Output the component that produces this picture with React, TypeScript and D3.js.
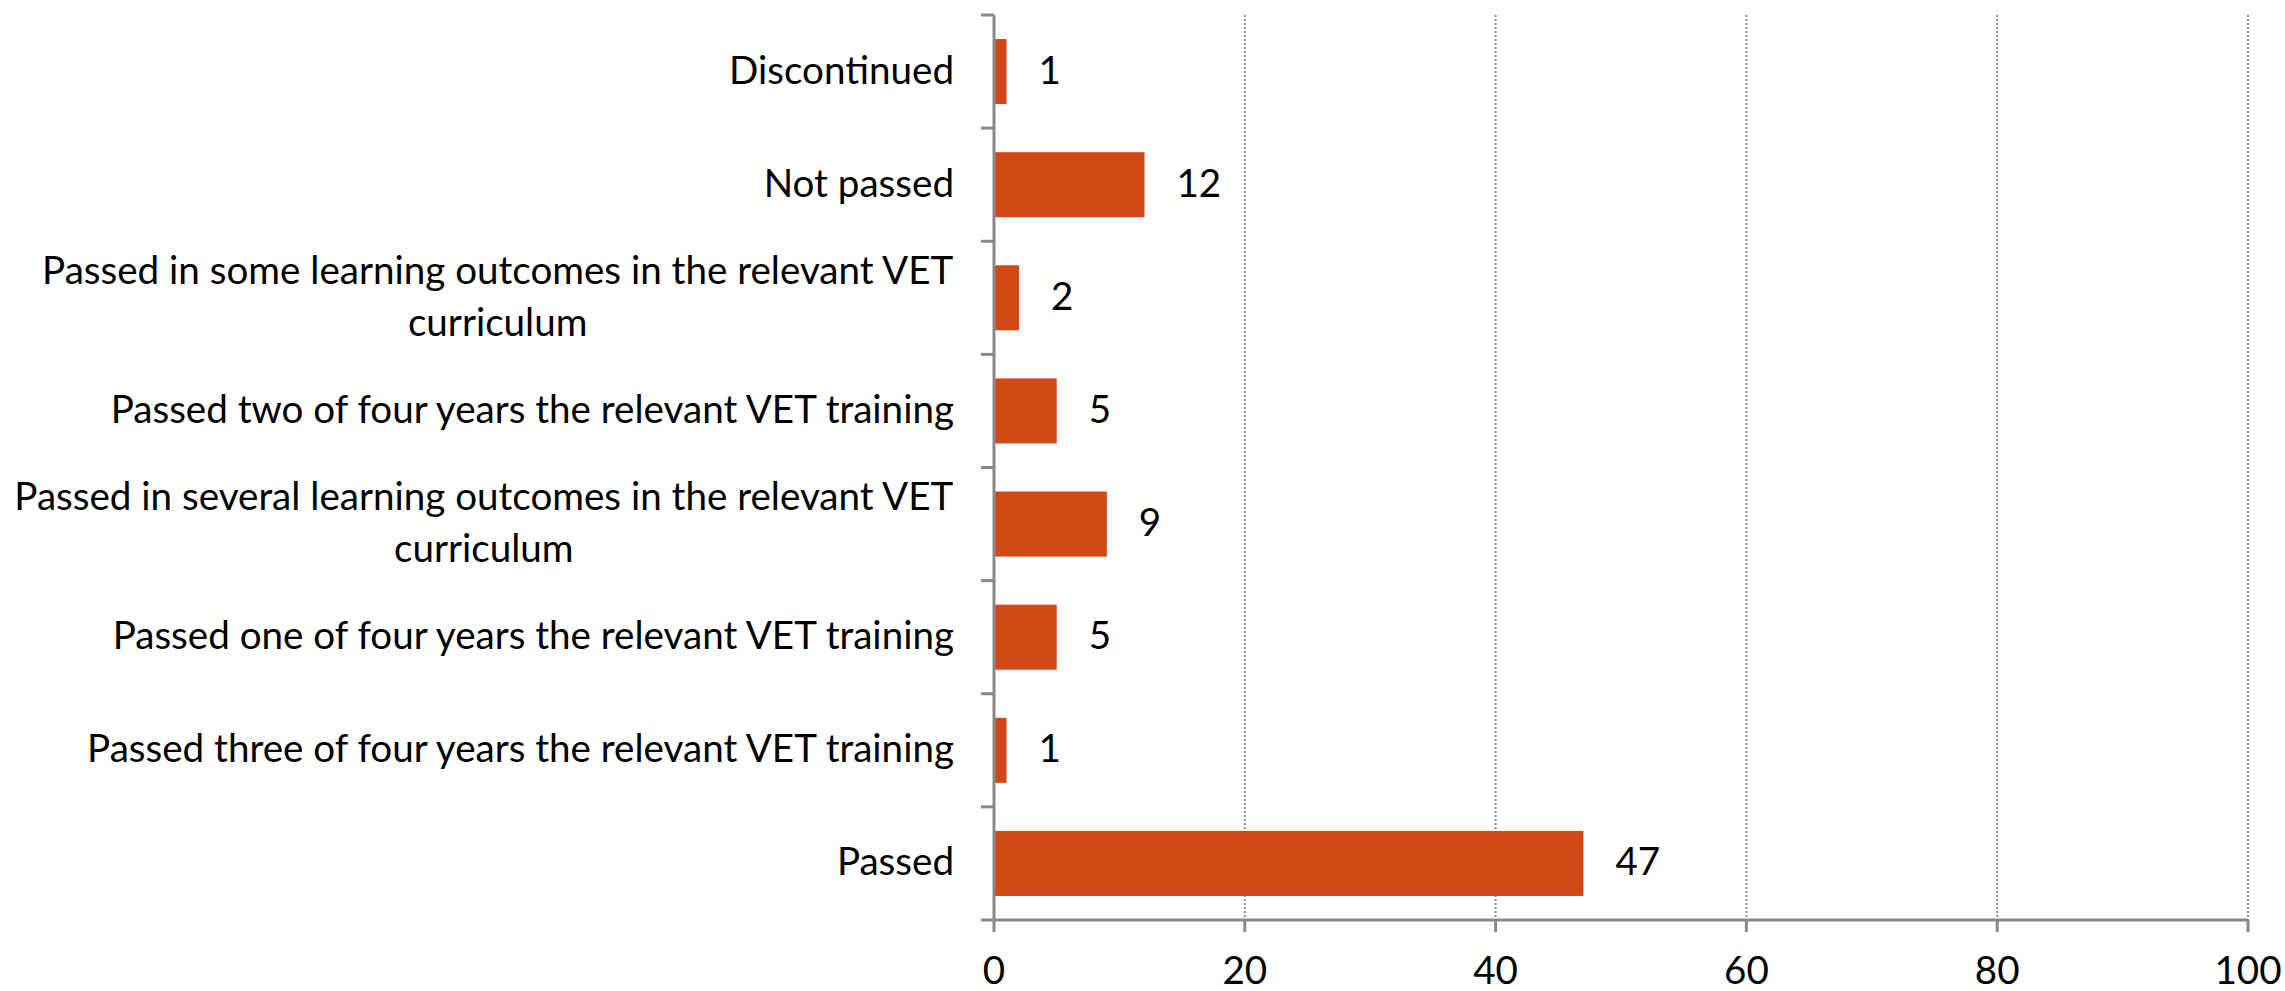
import React from "react";
import * as d3 from "d3";

const categories: string[] = [
  "Discontinued",
  "Not passed",
  "Passed in some learning outcomes in the relevant VET\ncurriculum",
  "Passed two of four years the relevant VET training",
  "Passed in several learning outcomes in the relevant VET\ncurriculum",
  "Passed one of four years the relevant VET training",
  "Passed three of four years the relevant VET training",
  "Passed",
];
const values: number[] = [1, 12, 2, 5, 9, 5, 1, 47];
const xTicks: number[] = [0, 20, 40, 60, 80, 100];

const W = 2285;
const H = 991;
const FONT = "Lato, 'Open Sans', sans-serif";
const FS = 38.6;
const BAR = "#D34817";
const AXIS = "#898989";

function measure(text: string): number {
  const c = document.createElement("canvas").getContext("2d");
  if (!c) return text.length * FS * 0.45;
  c.font = `${FS}px Lato`;
  return c.measureText(text).width;
}

export default function App() {
  const x = d3.scaleLinear().domain([0, 100]).range([994, 2248]);
  const p = 0.425;
  const y = d3
    .scaleBand<string>()
    .domain(categories)
    .range([15, 920])
    .paddingInner(p)
    .paddingOuter(p / 2);
  const step = y.step();
  const [top, bottom] = [15, 920];
  const labelRight = 954;

  return (
    <div style={{ position: "absolute", left: 0, top: 0 }}>
      <svg width={W} height={H} style={{ display: "block", background: "#fff" }}>
        {/* gridlines */}
        {xTicks.slice(1).map((t) => (
          <line
            key={"g" + t}
            x1={x(t)}
            x2={x(t)}
            y1={top}
            y2={bottom}
            stroke="#8c8c8c"
            strokeWidth={2}
            strokeDasharray="2,2"
          />
        ))}
        {/* bars */}
        {categories.map((c, i) => (
          <rect
            key={"b" + i}
            x={x(0)}
            y={y(c)}
            width={x(values[i]) - x(0)}
            height={y.bandwidth()}
            fill={BAR}
          />
        ))}
        {/* value axis */}
        <line x1={x(0)} x2={x(100)} y1={bottom} y2={bottom} stroke={AXIS} strokeWidth={3} />
        {xTicks.map((t) => (
          <g key={"t" + t}>
            <line x1={x(t)} x2={x(t)} y1={bottom} y2={bottom + 12} stroke={AXIS} strokeWidth={3} />
            <text
              x={x(t)}
              y={984}
              textAnchor="middle"
              fontFamily={FONT}
              fontSize={FS}
              fill="#000"
            >
              {t}
            </text>
          </g>
        ))}
        {/* category axis */}
        <line x1={x(0)} x2={x(0)} y1={top} y2={bottom} stroke={AXIS} strokeWidth={3} />
        {d3.range(categories.length + 1).map((i) => (
          <line
            key={"ct" + i}
            x1={x(0) - 13}
            x2={x(0)}
            y1={top + i * step}
            y2={top + i * step}
            stroke={AXIS}
            strokeWidth={3}
          />
        ))}
        {categories.map((c, i) => {
          const lines = c.split("\n");
          const maxW = Math.max(...lines.map(measure));
          const cy = (y(c) as number) + y.bandwidth() / 2;
          const n = lines.length;
          return (
            <text
              key={"cl" + i}
              fontFamily={FONT}
              fontSize={FS}
              fill="#000"
              textAnchor={n > 1 ? "middle" : "end"}
            >
              {lines.map((l, j) => (
                <tspan
                  key={j}
                  x={n > 1 ? labelRight - maxW / 2 : labelRight}
                  y={cy + 12 + (j - (n - 1) / 2) * 52}
                >
                  {l}
                </tspan>
              ))}
            </text>
          );
        })}
        {/* data labels */}
        {categories.map((c, i) => (
          <text
            key={"v" + i}
            x={x(values[i]) + 32}
            y={(y(c) as number) + y.bandwidth() / 2 + 12}
            fontFamily={FONT}
            fontSize={FS}
            fill="#000"
          >
            {values[i]}
          </text>
        ))}
      </svg>
    </div>
  );
}
